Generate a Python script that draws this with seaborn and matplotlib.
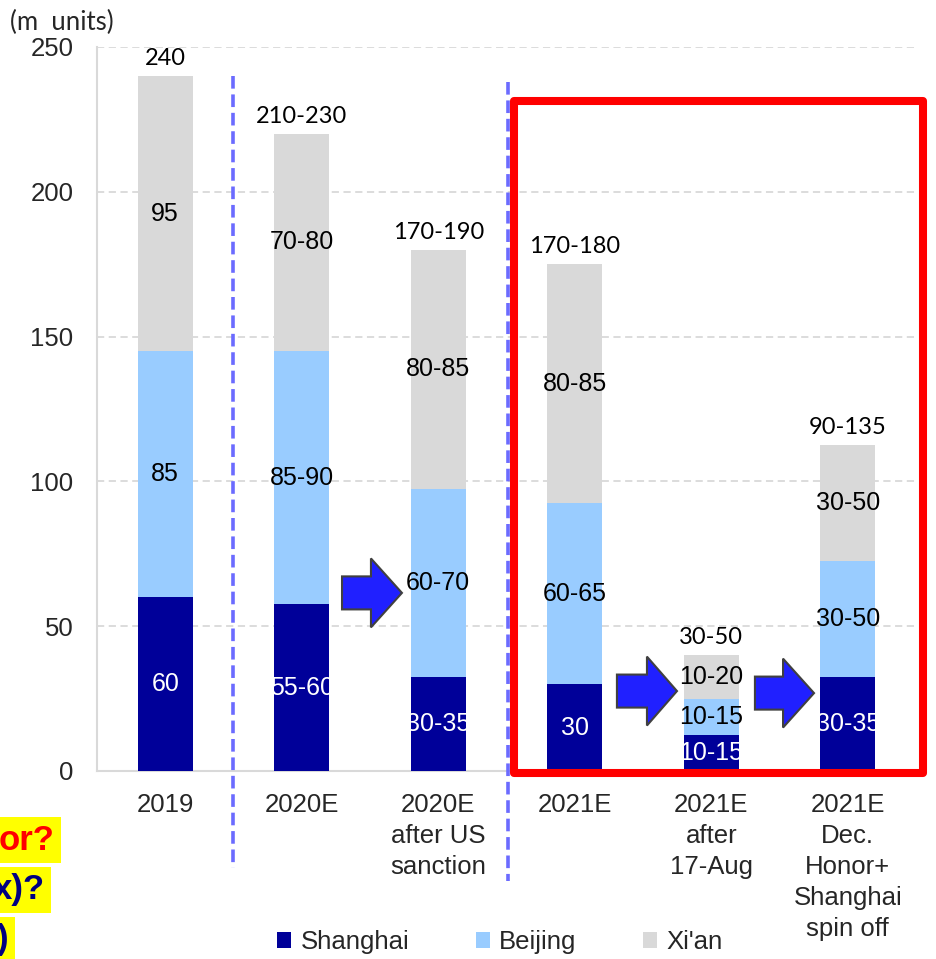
import numpy as np
import pandas as pd
import matplotlib
matplotlib.use("Agg")
import matplotlib.pyplot as plt
import seaborn as sns
from matplotlib.patches import Polygon, Rectangle, Patch

# ---- data -----------------------------------------------------------------
categories = ["2019", "2020E", "2020E\nafter US\nsanction", "2021E",
              "2021E\nafter\n17-Aug", "2021E\nDec.\nHonor+\nShanghai\nspin off"]
series = ["Shanghai", "Beijing", "Xi'an"]
shanghai = [60, 57.5, 32.5, 30, 12.5, 32.5]
beijing = [85, 87.5, 65, 62.5, 12.5, 40]
xian = [95, 75, 82.5, 82.5, 15, 40]
shanghai_labels = ["60", "55-60", "30-35", "30", "10-15", "30-35"]
beijing_labels = ["85", "85-90", "60-70", "60-65", "10-15", "30-50"]
xian_labels = ["95", "70-80", "80-85", "80-85", "10-20", "30-50"]
total_labels = ["240", "210-230", "170-190", "170-180", "30-50", "90-135"]
y_ticks = [0, 50, 100, 150, 200, 250]

colors = {"Shanghai": "#000099", "Beijing": "#99ccff", "Xi'an": "#d9d9d9"}

# ---- style ----------------------------------------------------------------
sns.set_theme(style="white")
plt.rcParams["font.family"] = ["Liberation Sans", "DejaVu Sans"]

fig = plt.figure(figsize=(9.37, 9.59), dpi=100)
W, H = 937, 959
ax = fig.add_axes([97 / W, 1 - 771 / H, (916 - 97) / W, (771 - 47) / H])

# cumulative heights so that overlapping bars form the stacks
values = {"Shanghai": np.array(shanghai, float),
          "Beijing": np.array(beijing, float),
          "Xi'an": np.array(xian, float)}
cum_sh = values["Shanghai"]
cum_bj = cum_sh + values["Beijing"]
cum_xa = cum_bj + values["Xi'an"]
rows = []
for s, cum in [("Xi'an", cum_xa), ("Beijing", cum_bj), ("Shanghai", cum_sh)]:
    for c, v in zip(categories, cum):
        rows.append({"category": c, "series": s, "top": v})
df = pd.DataFrame(rows)

sns.barplot(data=df, x="category", y="top", hue="series",
            hue_order=["Xi'an", "Beijing", "Shanghai"], order=categories,
            palette=colors, dodge=False, width=0.4, saturation=1,
            errorbar=None, legend=False, linewidth=0, ax=ax, zorder=3)

ax.set_xlim(-0.5, 5.5)
ax.set_ylim(0, 250)
ax.set_yticks(y_ticks)
ax.set_yticklabels([str(t) for t in y_ticks], fontsize=18.5)
ax.set_xlabel("")
ax.set_ylabel("")
ax.set_xticks(range(len(categories)))
ax.set_xticklabels(categories, fontsize=18.5, linespacing=1.37)
ax.set_xticks(np.arange(-0.5, 6, 1), minor=True)
ax.tick_params(axis="x", which="major", length=0, pad=16)
ax.tick_params(axis="x", which="minor", length=7, color="#d9d9d9", width=1.5)
ax.tick_params(axis="y", length=0, pad=17)

ax.grid(axis="y", color="#d9d9d9", linestyle=(0, (4, 2.5)), linewidth=1.3, zorder=0)
ax.grid(axis="x", visible=False)
for side in ["top", "right"]:
    ax.spines[side].set_visible(False)
for side in ["left", "bottom"]:
    ax.spines[side].set_color("#d9d9d9")
    ax.spines[side].set_linewidth(1.5)

# ---- segment and total labels ---------------------------------------------
bottoms = [np.zeros(6), cum_sh, cum_bj]
label_sets = [shanghai_labels, beijing_labels, xian_labels]
text_colors = ["white", "black", "black"]
for s, bot, labs, tc in zip(series, bottoms, label_sets, text_colors):
    for i, lab in enumerate(labs):
        ax.text(i, bot[i] + values[s][i] / 2, lab, ha="center", va="center",
                fontsize=18, color=tc, zorder=6)
for i, lab in enumerate(total_labels):
    ax.text(i, cum_xa[i] + 6, lab, ha="center", va="center", fontsize=17,
            family=["Lato", "DejaVu Sans"], color="black", zorder=6)

# ---- separators, highlight box and arrows ---------------------------------
ax.plot([0.5, 0.5], [240, -33.5], color="#6b6bff", lw=2.6,
        linestyle=(0, (3.5, 1.6)), clip_on=False, zorder=4)
ax.plot([2.51, 2.51], [238, -38], color="#6b6bff", lw=2.6,
        linestyle=(0, (3.5, 1.6)), clip_on=False, zorder=4)

ax.add_patch(Rectangle((2.555, -0.6), 5.55 - 2.555, 231.8, fill=False,
                       edgecolor="#ff0000", lw=5.8, joinstyle="round",
                       clip_on=False, zorder=7))


def block_arrow(x0, x_head, x_tip, yc, shaft=5.7, head=11.9):
    pts = [(x0, yc - shaft), (x_head, yc - shaft), (x_head, yc - head),
           (x_tip, yc), (x_head, yc + head), (x_head, yc + shaft),
           (x0, yc + shaft)]
    ax.add_patch(Polygon(pts, closed=True, facecolor="#2020ff",
                         edgecolor="#404040", lw=1.5, zorder=8, clip_on=False))


block_arrow(1.295, 1.507, 1.734, 61.5)
block_arrow(3.309, 3.529, 3.749, 27.6)
block_arrow(4.320, 4.526, 4.753, 26.9)

# ---- unit note, legend, side notes ----------------------------------------
fig.text(10 / W, 1 - 22 / H, "(m  units)", fontsize=18.5, ha="left", va="center",
         family=["Lato", "DejaVu Sans"])

handles = [Patch(facecolor=colors[s], edgecolor="none") for s in series]
fig.legend(handles, series, loc="center", bbox_to_anchor=(500 / W, 1 - 942 / H),
           ncol=3, frameon=False, fontsize=18.5, handlelength=0.55,
           handleheight=0.55, handletextpad=0.35, columnspacing=2.6)

note_style = dict(fontsize=25, fontweight="bold", ha="right", va="center",
                  bbox=dict(facecolor="#ffff00", edgecolor="none", pad=4.5))
fig.text(55 / W, 1 - 840 / H, "or?", color="#ff0000", **note_style)
fig.text(45 / W, 1 - 890 / H, "x)?", color="#000080", **note_style)
fig.text(9 / W, 1 - 940 / H, ")", color="#000080", **note_style)

fig.savefig("out.png", dpi=100, facecolor="white")
